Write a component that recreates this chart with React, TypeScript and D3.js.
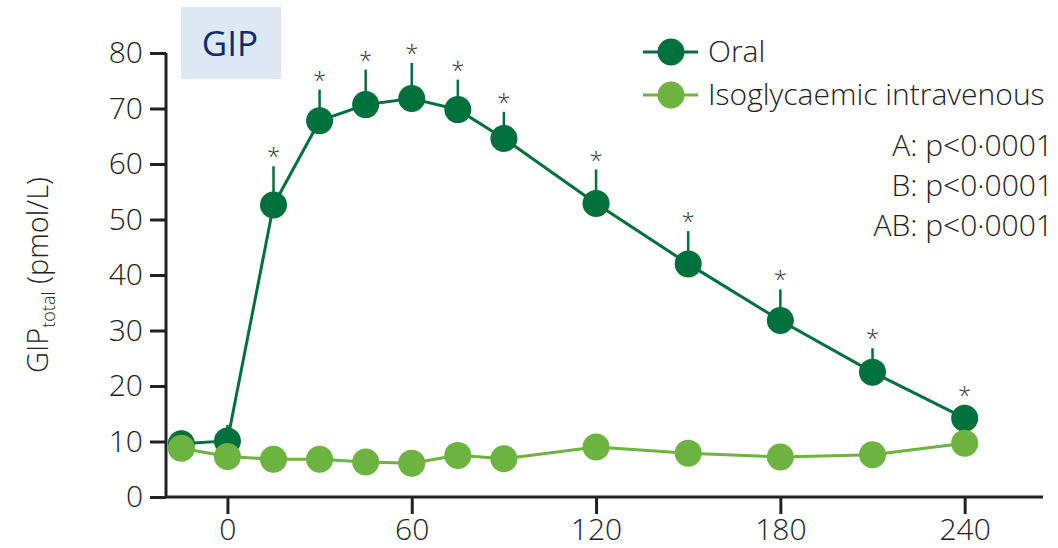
import React, { useEffect, useRef } from "react";
import * as d3 from "d3";

// time points (min)
const times = [-15, 0, 15, 30, 45, 60, 75, 90, 120, 150, 180, 210, 240];
// GIP total, oral glucose
const oralMean = [9.6, 10.1, 52.6, 67.8, 70.7, 71.8, 69.8, 64.6, 52.9, 42.0, 31.8, 22.5, 14.2];
const oralUpper = [12.0, 13.0, 59.6, 73.4, 77.0, 78.2, 75.2, 69.4, 59.0, 47.9, 37.4, 26.8, 16.6];
// GIP total, isoglycaemic iv
const ivMean = [8.8, 7.3, 6.8, 6.8, 6.3, 6.1, 7.5, 6.9, 9.0, 7.9, 7.2, 7.6, 9.7];
const significant = [false, false, true, true, true, true, true, true, true, true, true, true, true];

const yTicks = [0, 10, 20, 30, 40, 50, 60, 70, 80];
const xTicks = [0, 60, 120, 180, 240];
const stats = ["A: p<0·0001", "B: p<0·0001", "AB: p<0·0001"];

const DARK = "#00703c";
const LIGHT = "#6db33f";
const FONT = "'Open Sans', sans-serif";

export default function App() {
  const svgRef = useRef<SVGSVGElement>(null);

  useEffect(() => {
    const svg = d3.select(svgRef.current);
    svg.selectAll("*").remove();

    const x = d3.scaleLinear().domain([-20, 265.5]).range([166, 1043]);
    const y = d3.scaleLinear().domain([0, 80]).range([497, 53]);
    const r = 13.5;

    // GIP box
    svg.append("rect").attr("x", 181).attr("y", 7).attr("width", 100).attr("height", 72).attr("fill", "#dde8f4");
    svg.append("text").attr("x", 230).attr("y", 56).attr("text-anchor", "middle")
      .attr("font-family", FONT).attr("font-size", 35).attr("fill", "#0b2d6e").text("GIP");

    // axes
    const yAxis = svg.append("g").attr("transform", `translate(${x(-20)},0)`)
      .call(d3.axisLeft(y).tickValues(yTicks).tickSize(16).tickPadding(7));
    const xAxis = svg.append("g").attr("transform", `translate(0,${y(0)})`)
      .call(d3.axisBottom(x).tickValues(xTicks).tickSize(17).tickPadding(5));
    [yAxis, xAxis].forEach(a => {
      a.select(".domain").attr("stroke", "#222").attr("stroke-width", 3);
      a.selectAll(".tick line").attr("stroke", "#222").attr("stroke-width", 3);
      a.selectAll(".tick text").attr("font-family", FONT).attr("font-size", 30)
        .attr("font-weight", 300).attr("fill", "#222");
    });
    yAxis.select(".domain").attr("d", `M-0,${y(80)}H0V${y(0)}`);
    xAxis.select(".domain").attr("d", `M${x(-20)},0H${x(265.5)}`);

    // y label
    const yl = svg.append("text")
      .attr("transform", `translate(48,${275}) rotate(-90)`)
      .attr("text-anchor", "middle")
      .attr("font-family", FONT).attr("font-size", 29).attr("font-weight", 300).attr("fill", "#222");
    yl.append("tspan").text("GIP");
    yl.append("tspan").attr("font-size", 18).attr("dy", 7).text("total");
    yl.append("tspan").attr("dy", -7).text(" (pmol/L)");

    const line = d3.line<number>().x((d, i) => x(times[i])).y(d => y(d));

    // oral error bars
    svg.append("g").selectAll("line").data(oralUpper).join("line")
      .attr("x1", (d, i) => x(times[i])).attr("x2", (d, i) => x(times[i]))
      .attr("y1", (d, i) => y(oralMean[i])).attr("y2", d => y(d))
      .attr("stroke", DARK).attr("stroke-width", 2.5);

    // asterisks
    const sigTimes = times.filter((t, j) => significant[j]);
    svg.append("g").selectAll("text").data(oralUpper.filter((d, j) => significant[j])).join("text")
      .attr("x", (d, i) => x(sigTimes[i]))
      .attr("y", d => y(d) - 1)
      .attr("text-anchor", "middle")
      .attr("font-family", FONT).attr("font-size", 24).attr("font-weight", 300).attr("fill", "#333")
      .text("*");

    svg.append("path").datum(oralMean).attr("fill", "none").attr("stroke", DARK)
      .attr("stroke-width", 3).attr("d", line);
    svg.append("g").selectAll("circle").data(oralMean).join("circle")
      .attr("cx", (d, i) => x(times[i])).attr("cy", d => y(d)).attr("r", r).attr("fill", DARK);

    svg.append("path").datum(ivMean).attr("fill", "none").attr("stroke", LIGHT)
      .attr("stroke-width", 3).attr("d", line);
    svg.append("g").selectAll("circle").data(ivMean).join("circle")
      .attr("cx", (d, i) => x(times[i])).attr("cy", d => y(d)).attr("r", r).attr("fill", LIGHT);

    // legend
    const legend = [{ name: "Oral", color: DARK }, { name: "Isoglycaemic intravenous", color: LIGHT }];
    legend.forEach((l, i) => {
      const ly = 52 + i * 43;
      svg.append("line").attr("x1", 643).attr("x2", 698).attr("y1", ly).attr("y2", ly)
        .attr("stroke", l.color).attr("stroke-width", 3);
      svg.append("circle").attr("cx", 671).attr("cy", ly).attr("r", r).attr("fill", l.color);
      svg.append("text").attr("x", 708).attr("y", ly + 10)
        .attr("font-family", FONT).attr("font-size", 30).attr("font-weight", 300)
        .attr("fill", "#222").text(l.name);
    });

    stats.forEach((s, i) => {
      svg.append("text").attr("x", 1053).attr("y", 156 + i * 40).attr("text-anchor", "end")
        .attr("font-family", FONT).attr("font-size", 30).attr("font-weight", 300)
        .attr("fill", "#222").text(s);
    });
  }, []);

  return (
    <div style={{ position: "absolute", left: 0, top: 0 }}>
      <svg ref={svgRef} width={1058} height={548} style={{ display: "block", background: "#fff" }} />
    </div>
  );
}
